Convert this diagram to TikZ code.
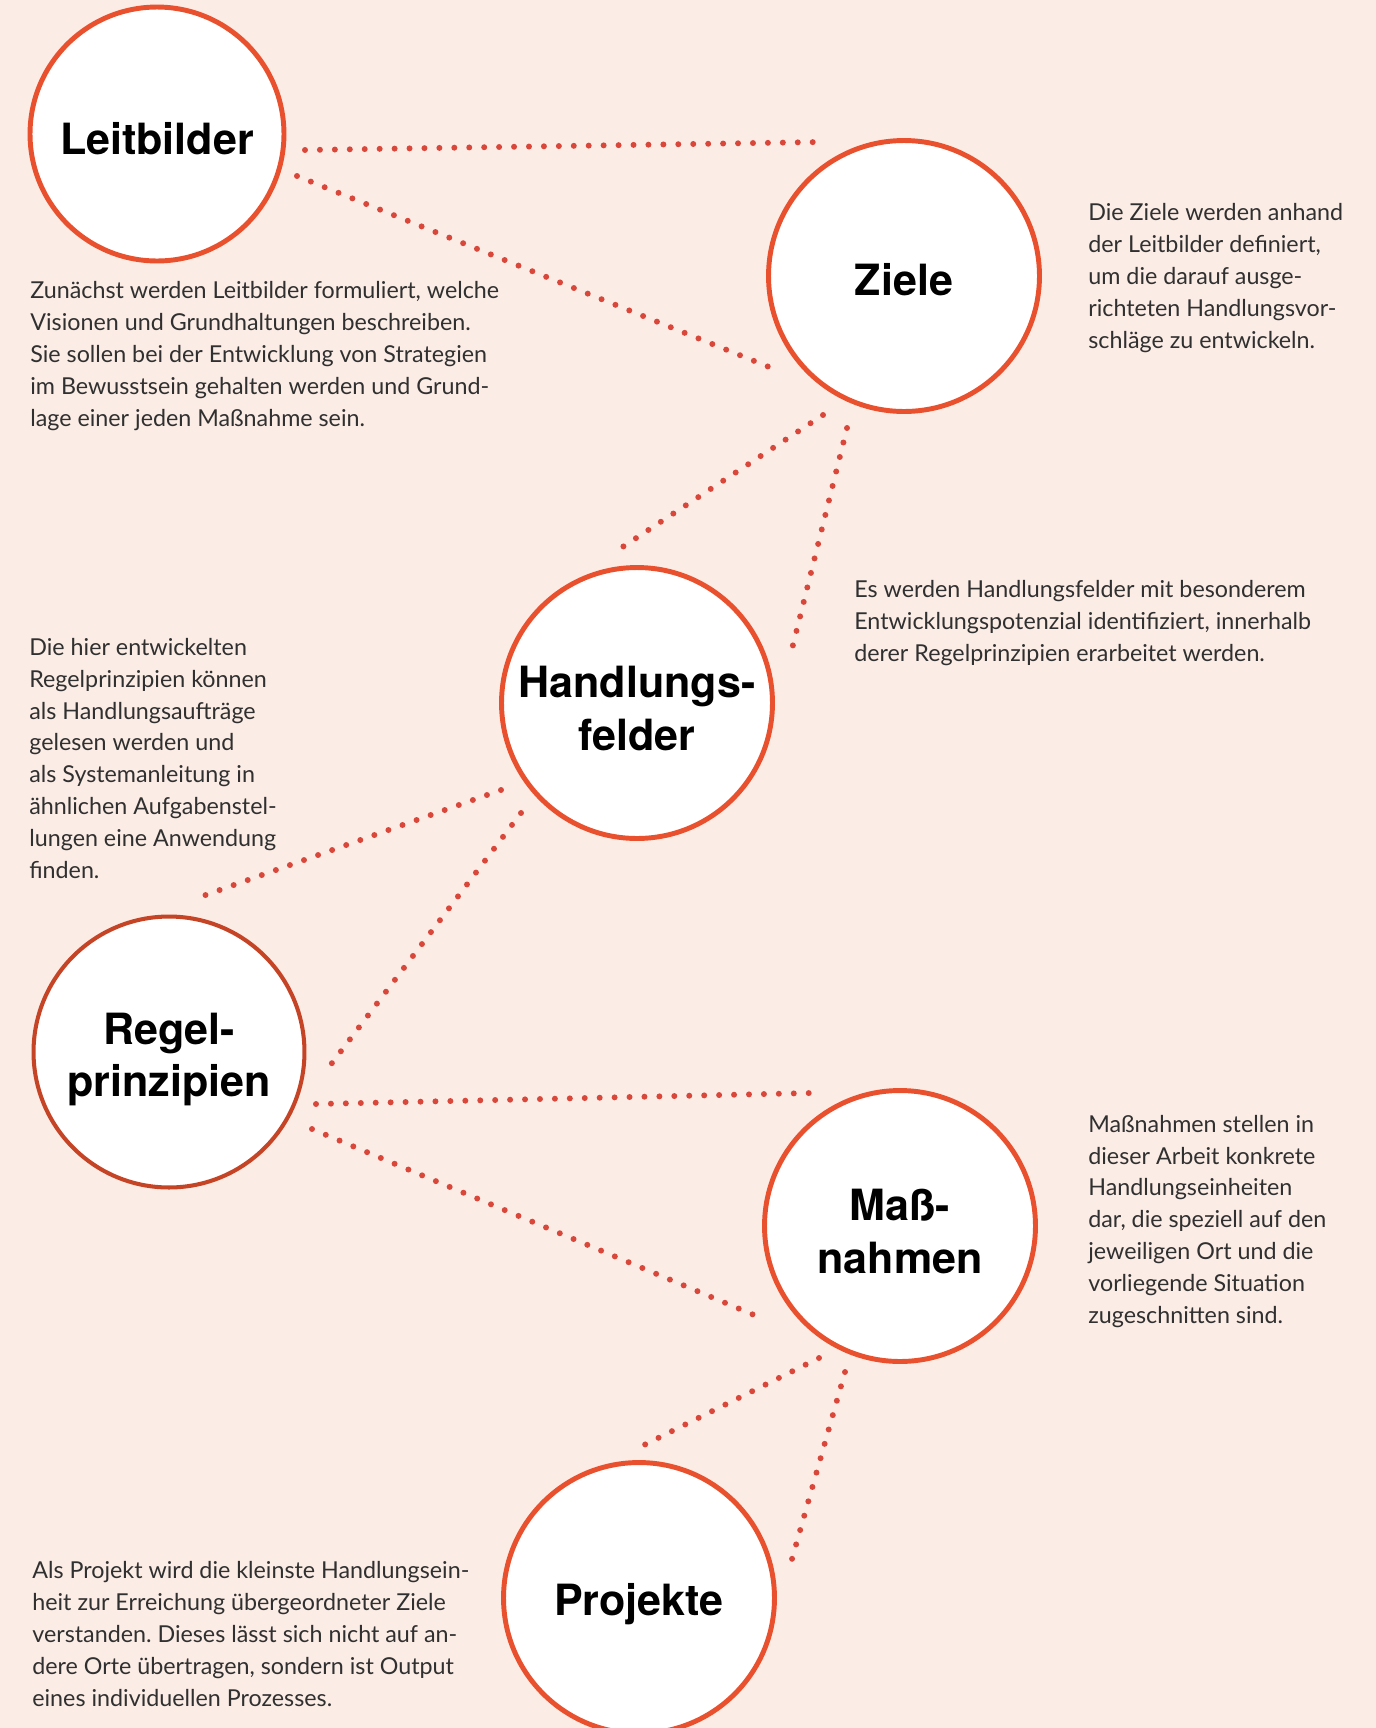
\documentclass[tikz,border=0pt]{standalone}
\usepackage{fontspec}
\setmainfont{Lato}
\newfontfamily\headfont{TeX Gyre Heros}
\usepackage{xcolor}
\usetikzlibrary{calc}
\definecolor{bgpink}{HTML}{FBECE5}
\definecolor{ringred}{HTML}{E9502D}
\definecolor{dotred}{HTML}{D9473A}
\definecolor{bodygray}{HTML}{303030}
\frenchspacing

\begin{document}
\begin{tikzpicture}[
    x=0.02cm, y=-0.02cm,
    stage/.style={circle, draw=ringred, line width=2.8pt, fill=white, minimum size=5.42cm, inner sep=0pt, outer sep=0pt},
    headline/.style={align=center, inner sep=0pt, font=\headfont\bfseries\fontsize{24.5}{30}\selectfont},
    blurb/.style={anchor=base west, align=left, inner sep=0pt, text=bodygray, font=\fontsize{13.25}{18.1}\selectfont},
    link/.style={draw=dotred, line width=3.4pt, line cap=round, dash pattern=on 0pt off 8.5pt}
]
\fill[bgpink] (0,0) rectangle (1376,1728);
\useasboundingbox (0,0) rectangle (1376,1728);

\node[stage, minimum size=5.08cm, label={[headline, yshift=-2.8pt]center:Leitbilder}] (lb) at (157,134) {};
\node[stage, label={[headline, yshift=-2.2pt]center:Ziele}] (zi) at (904,276) {};
\node[stage, label={[headline, yshift=-3pt]center:{Handlungs-\\felder}}] (hf) at (637,703) {};
\node[stage, draw=ringred!85!black, line width=2.3pt, label={[headline, yshift=-4.2pt]center:{Regel-\\prinzipien}}] (rp) at (169,1052) {};
\node[stage, label={[headline, yshift=-3pt]center:{Maß-\\nahmen}}] (mn) at (900,1226) {};
\node[stage, label={[headline, yshift=-3.6pt]center:Projekte}] (pj) at (639,1598) {};

\draw[link] ($(lb)+(148,16)$) -- ($(zi)+(-83,-134)$);
\draw[link] ($(lb)+(140,42)$) -- ($(zi)+(-125,95)$);
\draw[link] ($(zi)+(-81,139)$) -- ($(hf)+(-16,-155)$);
\draw[link] ($(zi)+(-57,152)$) -- ($(hf)+(154,-50)$);
\draw[link] ($(hf)+(-136,87)$) -- ($(rp)+(31,-155)$);
\draw[link] ($(hf)+(-116,110)$) -- ($(rp)+(160,15)$);
\draw[link] ($(rp)+(147,52)$) -- ($(mn)+(-89,-133)$);
\draw[link] ($(rp)+(143,77)$) -- ($(mn)+(-134,94)$);
\draw[link] ($(mn)+(-81,132)$) -- ($(pj)+(5,-153)$);
\draw[link] ($(mn)+(-55,146)$) -- ($(pj)+(151,-32)$);

\node[blurb] (lbtext) at (30,426) {Zunächst werden Leitbilder formuliert, welche\\Visionen und Grundhaltungen beschreiben.\\Sie sollen bei der Entwicklung von Strategien\\im Bewusstsein gehalten werden und Grund-\\lage einer jeden Maßnahme sein.};
\node[blurb] (zitext) at (1088,348) {Die Ziele werden anhand\\der Leitbilder definiert,\\um die darauf ausge-\\richteten Handlungsvor-\\schläge zu entwickeln.};
\node[blurb] (hftext) at (854,661) {Es werden Handlungsfelder mit besonderem\\Entwicklungspotenzial identifiziert, innerhalb\\derer Regelprinzipien erarbeitet werden.};
\node[blurb] (rptext) at (29,878) {Die hier entwickelten\\Regelprinzipien können\\als Handlungsaufträge\\gelesen werden und\\als Systemanleitung in\\ähnlichen Aufgabenstel-\\lungen eine Anwendung\\finden.};
\node[blurb] (mntext) at (1088,1323) {Maßnahmen stellen in\\dieser Arbeit konkrete\\Handlungseinheiten\\dar, die speziell auf den\\jeweiligen Ort und die\\vorliegende Situation\\zugeschnitten sind.};
\node[blurb] (pjtext) at (32,1706) {Als Projekt wird die kleinste Handlungsein-\\heit zur Erreichung übergeordneter Ziele\\verstanden. Dieses lässt sich nicht auf an-\\dere Orte übertragen, sondern ist Output\\eines individuellen Prozesses.};
\end{tikzpicture}
\end{document}
